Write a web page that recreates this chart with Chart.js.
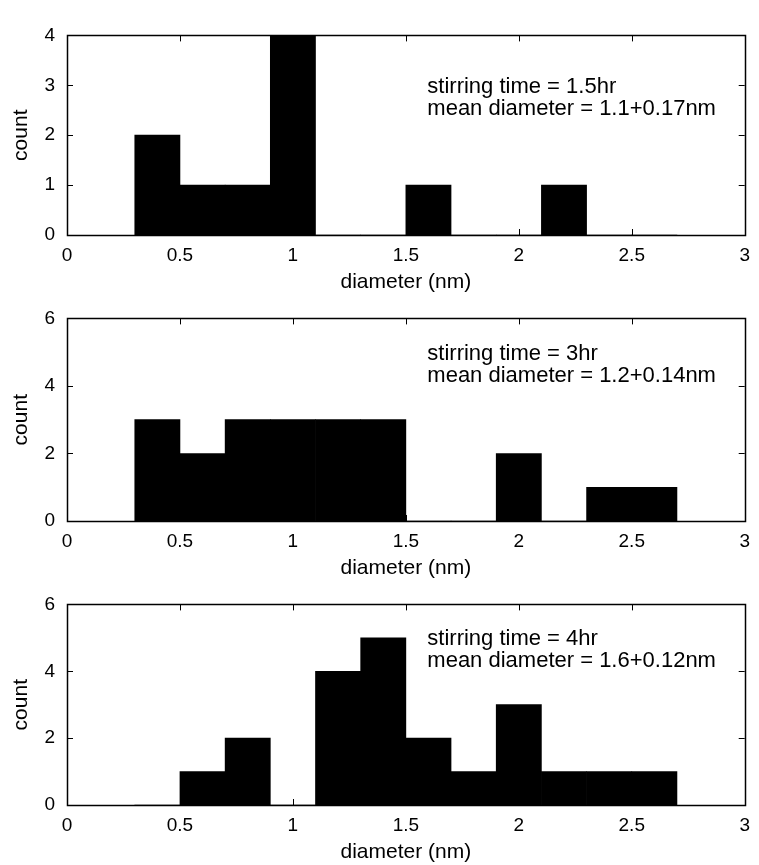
<!DOCTYPE html>
<html><head><meta charset="utf-8">
<script src="https://cdn.jsdelivr.net/npm/chart.js@4/dist/chart.umd.min.js"></script>
<style>
html,body{margin:0;padding:0;background:#fff;width:759px;height:865px;overflow:hidden}
.p{position:absolute;left:0;width:759px}
canvas{display:block}
</style></head><body>
<div class="p" id="w1"><canvas id="c1"></canvas></div>
<div class="p" id="w2"><canvas id="c2"></canvas></div>
<div class="p" id="w3"><canvas id="c3"></canvas></div>
<script>
// ---- data ----
const binCenters = [0.4, 0.6, 0.8, 1.0, 1.2, 1.4, 1.6, 1.8, 2.0, 2.2, 2.4, 2.6];
const counts15hr = [2, 1, 1, 4, 0, 0, 1, 0, 0, 1, 0, 0];
const counts3hr  = [3, 2, 3, 3, 3, 3, 0, 0, 2, 0, 1, 1];
const counts4hr  = [0, 1, 2, 0, 4, 5, 2, 1, 3, 1, 1, 1];
const xTickValues = [0, 0.5, 1, 1.5, 2, 2.5, 3];
const yMax15hr = 4, yStep15hr = 1;
const yMax3hr = 6, yStep3hr = 2;
const yMax4hr = 6, yStep4hr = 2;
const notes15hr = ['stirring time = 1.5hr', 'mean diameter = 1.1+0.17nm'];
const notes3hr  = ['stirring time = 3hr', 'mean diameter = 1.2+0.14nm'];
const notes4hr  = ['stirring time = 4hr', 'mean diameter = 1.6+0.12nm'];
const xTitle = 'diameter (nm)';
const yTitle = 'count';

const FONT = "'Liberation Sans', Arial, sans-serif";
Chart.defaults.font.family = FONT;
Chart.defaults.color = '#000';

const frame = {
  id: 'frame',
  beforeDatasetsDraw(chart) {
    const {ctx, chartArea: a, scales: {x, y}} = chart;
    ctx.save();
    ctx.strokeStyle = '#000';
    ctx.lineWidth = 1;
    const L = 6;
    ctx.beginPath();
    x.ticks.forEach(t => {
      const px = Math.round(x.getPixelForValue(t.value)) + 0.5;
      ctx.moveTo(px, a.top); ctx.lineTo(px, a.top + L);
      ctx.moveTo(px, a.bottom); ctx.lineTo(px, a.bottom - L);
    });
    y.ticks.forEach(t => {
      const py = Math.round(y.getPixelForValue(t.value)) + 0.5;
      ctx.moveTo(a.left, py); ctx.lineTo(a.left + L, py);
      ctx.moveTo(a.right, py); ctx.lineTo(a.right - L, py);
    });
    ctx.stroke();
    ctx.restore();
  },
  afterDatasetsDraw(chart, args, opts) {
    const {ctx, chartArea: a, scales: {x, y}} = chart;
    ctx.save();
    ctx.strokeStyle = '#000';
    ctx.lineWidth = 1.5;
    ctx.strokeRect(Math.round(a.left) + 0.5, Math.round(a.top) + 0.5,
                   Math.round(a.right - a.left), Math.round(a.bottom - a.top));
    ctx.fillStyle = '#000';
    ctx.font = '22px ' + FONT;
    ctx.textAlign = 'left';
    ctx.textBaseline = 'middle';
    const px = x.getPixelForValue(opts.noteX);
    const py = y.getPixelForValue(opts.noteY);
    opts.lines.forEach((s, i) => ctx.fillText(s, px, py + i * 22));
    ctx.restore();
  }
};

function makePanel(id, wrapId, counts, yMax, yStep, notes, noteY, T, B) {
  const top = T - 10;
  const h = B - T + 75;
  const wrap = document.getElementById(wrapId);
  wrap.style.top = top + 'px';
  const cv = document.getElementById(id);
  cv.width = 759; cv.height = h;
  cv.style.width = '759px'; cv.style.height = h + 'px';
  new Chart(cv, {
    type: 'bar',
    data: {
      datasets: [{
        data: binCenters.map((c, i) => ({x: c, y: counts[i]})),
        backgroundColor: '#000',
        borderWidth: 0,
        barPercentage: 1,
        categoryPercentage: 1
      }]
    },
    options: {
      responsive: false,
      devicePixelRatio: 1,
      animation: false,
      layout: {padding: {top: 10, right: 7, left: 0, bottom: 0}},
      plugins: {
        legend: {display: false},
        tooltip: {enabled: false},
        frame: {noteX: 1.595, noteY: noteY, lines: notes}
      },
      scales: {
        x: {
          type: 'linear', min: 0, max: 3, offset: false,
          afterBuildTicks: s => { s.ticks = xTickValues.map(v => ({value: v})); },
          afterFit: s => { s.height = 65; },
          grid: {display: false, drawTicks: false},
          border: {display: false},
          ticks: {padding: 9, font: {size: 19}, maxRotation: 0, autoSkip: false,
                  callback: v => String(v)},
          title: {display: true, text: xTitle, font: {size: 21, lineHeight: 1.2},
                  padding: {top: 0, bottom: 5}}
        },
        y: {
          min: 0, max: yMax,
          afterFit: s => { s.width = 67; },
          grid: {display: false, drawTicks: false},
          border: {display: false},
          ticks: {stepSize: yStep, padding: 12, font: {size: 19}},
          title: {display: true, text: yTitle, font: {size: 21, lineHeight: 1.2},
                  padding: {top: 9, bottom: 0}}
        }
      }
    },
    plugins: [frame]
  });
}

makePanel('c1', 'w1', counts15hr, yMax15hr, yStep15hr, notes15hr, 2.97, 22, 235);
makePanel('c2', 'w2', counts3hr, yMax3hr, yStep3hr, notes3hr, 4.94, 305, 521);
makePanel('c3', 'w3', counts4hr, yMax4hr, yStep4hr, notes4hr, 4.96, 591, 805);
</script>
</body></html>
